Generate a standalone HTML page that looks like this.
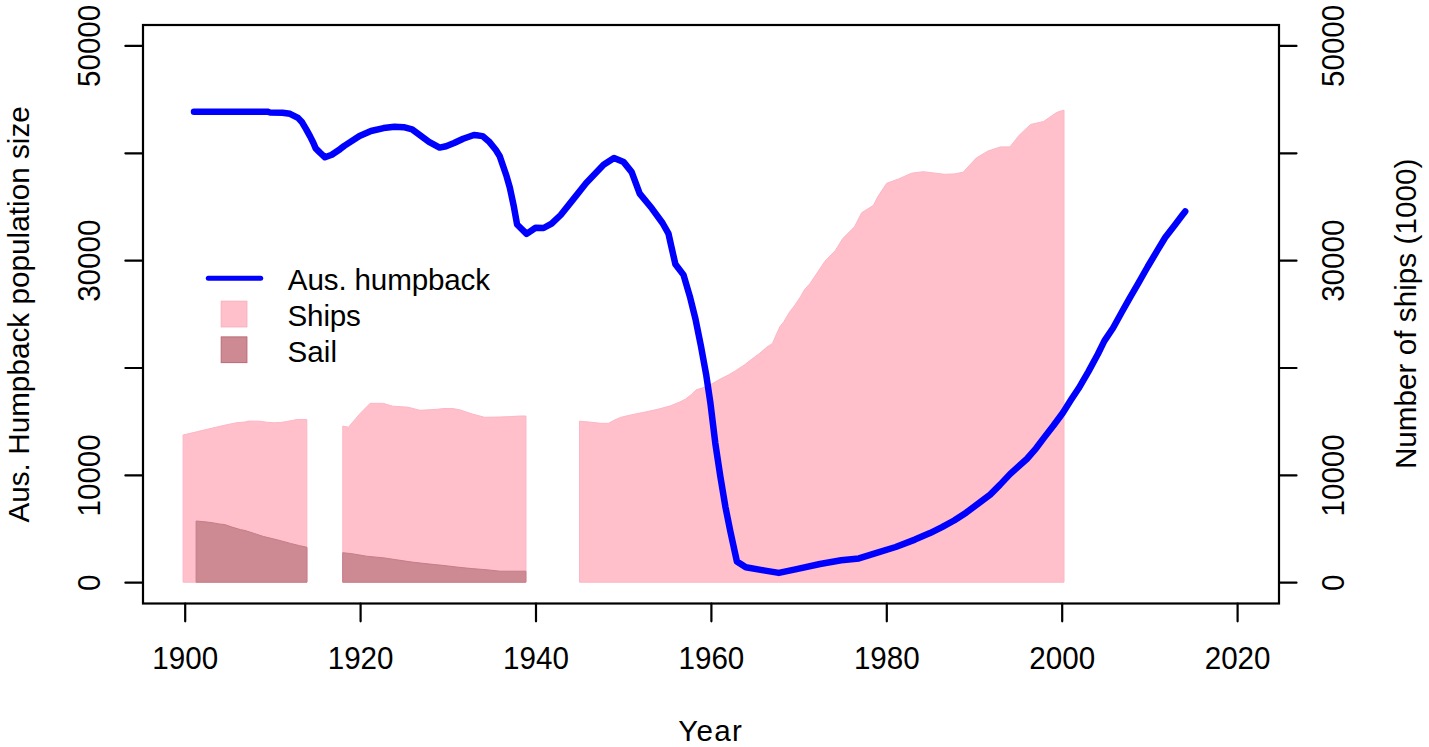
<!DOCTYPE html>
<html><head><meta charset="utf-8"><style>
html,body{margin:0;padding:0;background:#fff;}
svg{display:block;}
text{font-family:"Liberation Sans", sans-serif;font-size:29.6px;fill:#000;}
</style></head><body>
<svg width="1429" height="747" viewBox="0 0 1429 747">
<rect width="1429" height="747" fill="#fff"/>
<polygon points="183.1,582.2 183.1,435.0 197.6,431.6 212.3,428.1 227.0,424.7 236.8,422.7 245.0,422.0 248.4,421.1 259.7,421.2 267.0,422.3 274.4,422.7 280.8,422.5 286.6,421.5 294.0,420.2 296.4,419.5 306.8,419.5 306.8,582.2" fill="#FFC0CB" stroke="#FDB6C4" stroke-width="1"/>
<polygon points="342.8,582.2 342.8,426.1 348.5,427.2 352.0,423.0 360.4,413.2 370.2,403.3 383.5,403.4 392.6,406.2 408.0,407.2 419.9,410.3 429.0,409.8 437.0,409.3 444.0,408.5 453.1,408.6 460.1,409.9 472.0,413.9 484.6,417.3 500.0,417.0 510.5,416.6 520.3,416.0 526.0,416.0 526.0,582.2" fill="#FFC0CB" stroke="#FDB6C4" stroke-width="1"/>
<polygon points="579.5,582.2 579.5,421.2 584.1,421.6 591.8,422.3 600.2,423.3 608.6,423.3 614.2,420.2 620.5,417.4 631.0,414.9 645.0,412.1 659.0,409.0 670.8,405.7 680.0,401.9 685.4,399.2 691.4,394.5 696.1,389.8 702.1,388.1 712.1,383.8 720.2,379.1 728.2,375.1 735.6,370.7 744.3,365.0 750.0,360.5 759.4,353.5 766.9,347.1 772.5,343.4 775.3,336.8 780.0,326.5 783.7,321.9 789.3,312.5 795.0,305.0 800.6,296.6 804.3,290.0 810.1,283.4 824.9,261.3 835.4,250.4 842.7,238.6 854.5,226.8 861.7,212.7 873.5,205.3 877.9,196.5 886.7,183.3 898.7,178.9 911.6,173.2 923.1,171.7 933.1,172.9 944.6,174.3 954.6,173.9 963.2,172.2 976.2,158.1 987.6,151.2 1000.5,146.9 1009.9,146.9 1019.2,135.2 1030.7,124.4 1043.6,121.5 1056.5,112.5 1064.0,110.1 1064.0,582.2" fill="#FFC0CB" stroke="#FDB6C4" stroke-width="1"/>
<polygon points="196.1,582.2 196.1,521.0 207.6,522.1 213.5,522.9 219.4,524.0 224.8,524.6 232.0,527.1 240.4,529.6 245.0,530.5 254.1,533.4 263.2,536.4 272.3,538.6 281.4,540.9 290.5,543.4 299.6,545.7 307.0,547.3 307.0,582.2" fill="#CD8A93" stroke="#C57D89" stroke-width="1"/>
<polygon points="342.7,582.2 342.7,552.7 351.8,553.7 366.5,556.2 384.0,557.9 398.0,560.0 412.0,562.1 430.0,564.1 444.0,565.5 458.0,567.2 472.0,568.6 486.0,569.7 500.0,571.2 525.9,571.2 525.9,582.2" fill="#CD8A93" stroke="#C57D89" stroke-width="1"/>
<polyline points="194.0,111.8 260.0,111.7 267.5,111.7 270.0,112.5 282.5,112.7 290.0,113.8 298.0,117.9 302.1,122.3 306.1,129.1 310.1,136.4 313.3,142.8 315.7,148.4 319.7,152.4 325.0,157.3 331.8,154.8 340.0,149.2 344.3,145.9 359.5,136.0 371.0,131.0 383.6,128.1 394.5,126.8 403.7,127.2 412.1,129.3 418.9,134.4 429.0,141.9 439.6,147.6 446.1,146.2 454.1,143.0 463.2,138.7 473.9,135.0 476.6,135.3 482.5,136.1 488.9,141.4 495.9,150.0 499.6,155.9 506.6,176.3 509.8,187.5 513.9,206.8 517.1,224.5 526.6,233.9 535.6,227.7 543.6,228.0 551.6,223.7 560.7,215.0 571.4,201.6 586.2,182.9 603.6,164.8 614.0,158.1 623.7,162.1 631.7,172.1 639.7,193.6 651.8,208.3 662.5,223.0 668.5,233.7 671.4,246.8 675.4,264.2 683.5,274.9 690.2,297.7 695.5,319.1 700.9,345.9 706.3,375.4 710.3,402.2 715.3,443.2 720.3,476.3 725.4,506.8 730.5,532.2 736.9,561.5 745.8,567.3 763.6,570.4 778.8,572.9 796.6,569.1 820.0,564.0 841.2,560.3 858.9,558.4 876.6,552.9 895.7,547.0 914.9,539.6 930.0,533.1 942.0,527.1 954.1,520.5 966.1,512.7 978.2,503.6 990.2,494.6 999.9,484.9 1010.0,474.1 1026.8,459.0 1036.1,448.3 1044.1,437.6 1053.5,425.5 1062.9,412.8 1070.9,400.1 1078.7,388.3 1088.4,371.6 1097.8,354.2 1104.4,340.9 1113.2,327.8 1122.0,311.8 1130.1,297.3 1138.1,283.7 1147.8,266.5 1157.1,250.9 1165.2,237.5 1174.5,225.4 1182.6,214.7 1185.2,211.4" fill="none" stroke="#0000FF" stroke-width="6.5" stroke-linejoin="round" stroke-linecap="round"/>
<rect x="143" y="25" width="1136" height="578.5" fill="none" stroke="#000" stroke-width="2.2"/>
<path d="M125.4,582.7H143M1279,582.7H1296.5M125.4,475.4H143M1279,475.4H1296.5M125.4,368.0H143M1279,368.0H1296.5M125.4,260.7H143M1279,260.7H1296.5M125.4,153.3H143M1279,153.3H1296.5M125.4,45.9H143M1279,45.9H1296.5M185.2,603.5V621.3M360.6,603.5V621.3M536.0,603.5V621.3M711.4,603.5V621.3M886.8,603.5V621.3M1062.2,603.5V621.3M1237.6,603.5V621.3" stroke="#000" stroke-width="2.2" fill="none" stroke-linecap="round"/>
<text transform="translate(185.20 669.20) scale(1 1.04)" x="0" y="0" text-anchor="middle">1900</text>
<text transform="translate(360.60 669.20) scale(1 1.04)" x="0" y="0" text-anchor="middle">1920</text>
<text transform="translate(536.00 669.20) scale(1 1.04)" x="0" y="0" text-anchor="middle">1940</text>
<text transform="translate(711.40 669.20) scale(1 1.04)" x="0" y="0" text-anchor="middle">1960</text>
<text transform="translate(886.80 669.20) scale(1 1.04)" x="0" y="0" text-anchor="middle">1980</text>
<text transform="translate(1062.20 669.20) scale(1 1.04)" x="0" y="0" text-anchor="middle">2000</text>
<text transform="translate(1237.60 669.20) scale(1 1.04)" x="0" y="0" text-anchor="middle">2020</text>
<text transform="translate(100.10 582.70) rotate(-90) scale(1 1.04)" x="0" y="0" text-anchor="middle">0</text>
<text transform="translate(1343.60 582.70) rotate(-90) scale(1 1.04)" x="0" y="0" text-anchor="middle">0</text>
<text transform="translate(100.10 475.40) rotate(-90) scale(1 1.04)" x="0" y="0" text-anchor="middle">10000</text>
<text transform="translate(1343.60 475.40) rotate(-90) scale(1 1.04)" x="0" y="0" text-anchor="middle">10000</text>
<text transform="translate(100.10 260.70) rotate(-90) scale(1 1.04)" x="0" y="0" text-anchor="middle">30000</text>
<text transform="translate(1343.60 260.70) rotate(-90) scale(1 1.04)" x="0" y="0" text-anchor="middle">30000</text>
<text transform="translate(100.10 45.90) rotate(-90) scale(1 1.04)" x="0" y="0" text-anchor="middle">50000</text>
<text transform="translate(1343.60 45.90) rotate(-90) scale(1 1.04)" x="0" y="0" text-anchor="middle">50000</text>
<text transform="translate(678.35 740.80) scale(1 1.0)" x="0" y="0" textLength="63.54" lengthAdjust="spacing">Year</text>
<text transform="translate(28.70 522.50) rotate(-90) scale(1 1.0)" x="-0.06" y="0" textLength="416.37" lengthAdjust="spacing">Aus. Humpback population size</text>
<text transform="translate(1416.10 466.70) rotate(-90) scale(1 1.0)" x="-2.43" y="0" textLength="310.46" lengthAdjust="spacing">Number of ships (1000)</text>
<line x1="208.3" y1="278.2" x2="260.7" y2="278.2" stroke="#0000FF" stroke-width="5" stroke-linecap="round"/>
<rect x="221.2" y="301.2" width="25.7" height="25.7" fill="#FFC0CB" stroke="#F8AFBD" stroke-width="1"/>
<rect x="221.2" y="336.9" width="25.7" height="25.7" fill="#CD8A93" stroke="#B86A78" stroke-width="1"/>
<text transform="translate(287.84 289.90) scale(1 1.0)" x="0" y="0" textLength="202.21" lengthAdjust="spacing">Aus. humpback</text>
<text transform="translate(287.56 325.90) scale(1 1.0)" x="0" y="0" textLength="73.31" lengthAdjust="spacing">Ships</text>
<text transform="translate(287.56 361.80) scale(1 1.0)" x="0" y="0" textLength="49.52" lengthAdjust="spacing">Sail</text>
</svg>
</body></html>
